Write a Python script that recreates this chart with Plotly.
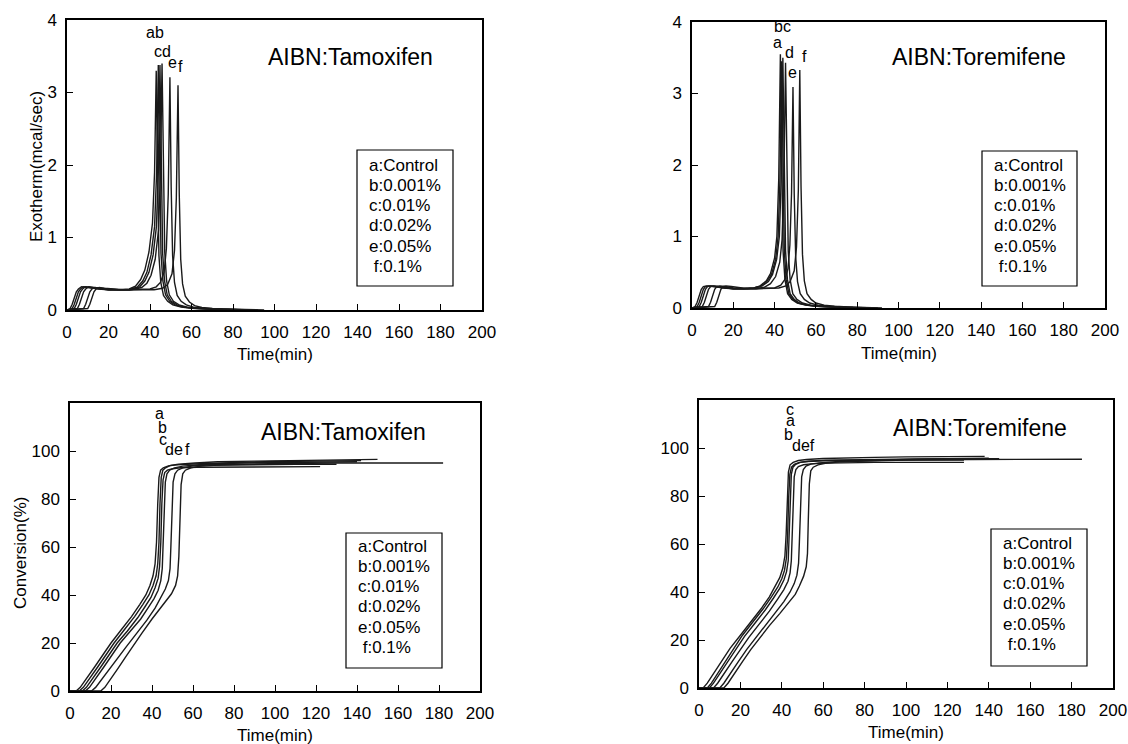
import plotly.graph_objects as go

W, H = 1128, 744
FONT = "Liberation Sans, Arial, sans-serif"

# ---------------- data: Exotherm, AIBN:Tamoxifen ----------------
exo_tam_a_t = [0, 1.5, 2.5, 3.5, 4.5, 5.5, 7, 10, 15, 20, 25, 30, 33, 35.5, 37.5, 39.5, 41.2, 42.2, 43.0, 43.6, 44.3, 45.2, 46.5, 48.5, 51, 55, 60, 70, 85]
exo_tam_a_y = [0, 0.02, 0.08, 0.17, 0.25, 0.29, 0.32, 0.31, 0.29, 0.28, 0.28, 0.29, 0.33, 0.42, 0.55, 0.8, 1.2, 1.9, 3.30, 1.7, 0.75, 0.38, 0.2, 0.12, 0.07, 0.04, 0.025, 0.01, 0]
exo_tam_b_t = [0, 2.5, 3.5, 4.5, 5.5, 6.5, 8, 11, 15, 20, 25, 30, 34, 36.5, 38.5, 40.5, 42.2, 43.2, 44.0, 44.6, 45.3, 46.2, 47.5, 49.5, 52, 56, 61, 72, 88]
exo_tam_b_y = [0, 0.02, 0.08, 0.17, 0.25, 0.29, 0.32, 0.31, 0.29, 0.28, 0.28, 0.28, 0.32, 0.40, 0.52, 0.76, 1.15, 1.9, 3.38, 1.75, 0.78, 0.4, 0.21, 0.12, 0.07, 0.04, 0.025, 0.01, 0]
exo_tam_c_t = [0, 3.5, 4.5, 5.5, 6.5, 7.5, 9, 12, 16, 20, 25, 30, 35, 37.5, 39.5, 41.5, 43.1, 44.0, 44.8, 45.4, 46.1, 47.0, 48.3, 50.3, 53, 57, 62, 72, 88]
exo_tam_c_y = [0, 0.02, 0.08, 0.17, 0.25, 0.29, 0.32, 0.31, 0.29, 0.28, 0.28, 0.28, 0.32, 0.40, 0.52, 0.76, 1.15, 1.9, 3.38, 1.75, 0.78, 0.4, 0.21, 0.12, 0.07, 0.04, 0.025, 0.01, 0]
exo_tam_d_t = [0, 5, 6, 7, 8, 9, 10.5, 13, 17, 21, 26, 31, 36, 38.5, 40.5, 42.5, 44.1, 45.0, 45.8, 46.4, 47.1, 48.0, 49.3, 51.3, 54, 58, 63, 73, 90]
exo_tam_d_y = [0, 0.02, 0.08, 0.17, 0.25, 0.29, 0.32, 0.31, 0.29, 0.28, 0.28, 0.28, 0.31, 0.37, 0.48, 0.7, 1.1, 1.85, 3.40, 1.8, 0.8, 0.4, 0.21, 0.12, 0.07, 0.04, 0.025, 0.01, 0]
exo_tam_e_t = [0, 8, 9, 10, 11, 12, 13.5, 16, 20, 25, 30, 35, 40, 43, 45, 46.8, 47.9, 48.8, 49.6, 50.2, 50.9, 51.8, 53.1, 55, 57.5, 61, 66, 75, 92]
exo_tam_e_y = [0, 0.02, 0.08, 0.17, 0.25, 0.29, 0.31, 0.30, 0.29, 0.28, 0.28, 0.28, 0.29, 0.32, 0.38, 0.52, 0.85, 1.6, 3.21, 1.7, 0.75, 0.38, 0.2, 0.12, 0.07, 0.04, 0.025, 0.01, 0]
exo_tam_f_t = [0, 10, 11, 12, 13, 14, 15.5, 18, 22, 27, 32, 37, 42, 46, 48.5, 50.6, 51.8, 52.7, 53.5, 54.1, 54.8, 55.7, 57, 59, 61.5, 65, 70, 80, 95]
exo_tam_f_y = [0, 0.02, 0.08, 0.17, 0.25, 0.29, 0.31, 0.30, 0.29, 0.28, 0.28, 0.28, 0.28, 0.3, 0.35, 0.5, 0.82, 1.55, 3.10, 1.6, 0.7, 0.36, 0.19, 0.11, 0.06, 0.035, 0.02, 0.01, 0]

# ---------------- data: Exotherm, AIBN:Toremifene ----------------
exo_tor_a_t = [0, 1.5, 2.5, 3.5, 4.5, 5.5, 7, 10, 15, 20, 25, 30, 33, 36, 38, 40, 41.1, 42.0, 42.8, 43.4, 44.1, 45.0, 46.3, 48.3, 51, 55, 60, 70, 85]
exo_tor_a_y = [0, 0.02, 0.08, 0.18, 0.26, 0.30, 0.31, 0.30, 0.28, 0.27, 0.27, 0.28, 0.31, 0.38, 0.48, 0.7, 1.0, 1.8, 3.55, 1.8, 0.8, 0.4, 0.2, 0.12, 0.07, 0.04, 0.025, 0.01, 0]
exo_tor_b_t = [0, 2.5, 3.5, 4.5, 5.5, 6.5, 8, 11, 15, 20, 25, 30, 33, 36, 38.5, 40.5, 41.7, 42.6, 43.4, 44.0, 44.7, 45.6, 46.9, 48.9, 51.5, 55.5, 61, 71, 86]
exo_tor_b_y = [0, 0.02, 0.08, 0.18, 0.26, 0.30, 0.31, 0.30, 0.28, 0.27, 0.27, 0.28, 0.30, 0.36, 0.47, 0.68, 1.0, 1.8, 3.45, 1.8, 0.8, 0.4, 0.2, 0.12, 0.07, 0.04, 0.025, 0.01, 0]
exo_tor_c_t = [0, 3.5, 4.5, 5.5, 6.5, 7.5, 9, 12, 16, 20, 25, 30, 34, 37, 39, 41, 42.3, 43.2, 44.0, 44.6, 45.3, 46.2, 47.5, 49.5, 52, 56, 61, 72, 88]
exo_tor_c_y = [0, 0.02, 0.08, 0.18, 0.26, 0.30, 0.31, 0.30, 0.28, 0.27, 0.27, 0.28, 0.31, 0.37, 0.47, 0.68, 1.0, 1.8, 3.50, 1.8, 0.8, 0.4, 0.2, 0.12, 0.07, 0.04, 0.025, 0.01, 0]
exo_tor_d_t = [0, 5, 6, 7, 8, 9, 10.5, 13, 17, 21, 26, 31, 35, 38, 40.5, 42.5, 43.6, 44.5, 45.3, 45.9, 46.6, 47.5, 48.8, 50.8, 53.5, 57.5, 63, 73, 88]
exo_tor_d_y = [0, 0.02, 0.08, 0.18, 0.26, 0.30, 0.31, 0.30, 0.28, 0.27, 0.27, 0.27, 0.29, 0.34, 0.44, 0.64, 0.95, 1.75, 3.43, 1.8, 0.8, 0.4, 0.2, 0.12, 0.07, 0.04, 0.025, 0.01, 0]
exo_tor_e_t = [0, 8, 9, 10, 11, 12, 13.5, 16, 20, 25, 30, 35, 40, 43, 45, 46.5, 47.4, 48.2, 48.9, 49.5, 50.2, 51.1, 52.4, 54.4, 57, 61, 66, 75, 90]
exo_tor_e_y = [0, 0.02, 0.08, 0.18, 0.26, 0.30, 0.31, 0.30, 0.28, 0.27, 0.27, 0.27, 0.28, 0.32, 0.4, 0.55, 0.88, 1.6, 3.09, 1.6, 0.72, 0.37, 0.2, 0.12, 0.07, 0.04, 0.025, 0.01, 0]
exo_tor_f_t = [0, 11, 12, 13, 14, 15, 16.5, 19, 23, 27, 32, 37, 42, 45.5, 47.5, 49.5, 50.6, 51.5, 52.2, 52.8, 53.5, 54.4, 55.7, 57.7, 60, 64, 69, 78, 92]
exo_tor_f_y = [0, 0.02, 0.08, 0.18, 0.26, 0.30, 0.31, 0.30, 0.28, 0.27, 0.27, 0.27, 0.28, 0.31, 0.37, 0.52, 0.85, 1.65, 3.33, 1.7, 0.75, 0.38, 0.2, 0.12, 0.07, 0.04, 0.025, 0.01, 0]

# ---------------- data: Conversion, AIBN:Tamoxifen ----------------
conv_tam_a_t = [0, 3, 5, 8, 12, 16, 20, 25, 30, 34, 37, 39, 40.5, 41.5, 42.2, 42.8, 43.4, 44.2, 45.5, 48, 52, 60, 70, 85, 100, 120, 142]
conv_tam_a_y = [0, 0, 1.5, 5, 10, 15, 20, 25.5, 31, 36, 40, 44, 48, 53, 62, 78, 89, 92, 93, 93.8, 94.2, 94.6, 95, 95.3, 95.6, 95.8, 96]
conv_tam_b_t = [0, 4.5, 6.5, 9.5, 13.5, 17.5, 21.5, 26.5, 31.5, 35.5, 38.5, 40.5, 42, 42.8, 43.4, 43.9, 44.5, 45.3, 46.6, 49, 53, 61, 72, 90, 110, 130, 150]
conv_tam_b_y = [0, 0, 1.5, 5, 10, 15, 20, 25.5, 31, 36, 40, 44, 48, 53, 62, 78, 89, 92, 93, 94, 94.5, 95, 95.5, 95.8, 96.1, 96.3, 96.5]
conv_tam_c_t = [0, 6, 8, 11, 15, 19, 23, 28, 33, 36.5, 39.5, 41.5, 43, 43.7, 44.3, 44.8, 45.4, 46.2, 47.5, 50, 54, 62, 72, 85, 100, 110, 122]
conv_tam_c_y = [0, 0, 1.5, 5, 10, 15, 20, 25, 30.5, 35, 39, 43, 47, 52, 62, 78, 88, 91, 92, 92.6, 93, 93.2, 93.3, 93.4, 93.5, 93.5, 93.5]
conv_tam_d_t = [0, 7.5, 9.5, 12.5, 16.5, 20.5, 24.5, 29.5, 34.5, 38, 41, 43, 44.3, 45, 45.4, 45.9, 46.5, 47.3, 48.6, 51, 55, 63, 75, 90, 105, 120, 140]
conv_tam_d_y = [0, 0, 1.5, 5, 10, 15, 20, 25, 30, 34.5, 38.5, 42, 46, 51, 60, 77, 87, 90.5, 92, 93, 93.7, 94.3, 94.8, 95.1, 95.3, 95.4, 95.5]
conv_tam_e_t = [0, 10.5, 12.5, 15.5, 19.5, 23.5, 27.5, 32.5, 37.5, 41.5, 44.5, 46.5, 48, 48.8, 49.2, 49.7, 50.3, 51.2, 52.5, 55, 60, 70, 85, 105, 130, 155, 182]
conv_tam_e_y = [0, 0, 1.5, 5, 9.5, 14, 18.5, 24, 29.5, 34.5, 39, 42.5, 46, 51, 60, 77, 87, 90.5, 92, 93, 93.8, 94.3, 94.6, 94.8, 95, 95, 95]
conv_tam_f_t = [0, 15, 17, 20, 23.5, 27, 30.5, 35, 40, 44, 47, 49.5, 51.5, 52.5, 53.1, 53.6, 54.2, 55, 56.3, 59, 63, 70, 80, 95, 110, 120, 130]
conv_tam_f_y = [0, 0, 1.5, 5, 9.5, 14, 18.5, 24, 30, 34.5, 37.5, 40.5, 44, 48, 56, 72, 86, 90.5, 92, 93, 93.6, 94, 94.2, 94.4, 94.5, 94.5, 94.5]

# ---------------- data: Conversion, AIBN:Toremifene ----------------
conv_tor_a_t = [0, 2, 4, 7, 11, 15, 20, 25, 30, 34, 37, 39, 40.5, 41.5, 42.1, 42.6, 43.2, 44, 45.5, 48, 52, 60, 70, 85, 100, 120, 138]
conv_tor_a_y = [0, 0, 2, 6, 11.5, 16.5, 22, 27.5, 33, 38, 42.5, 46, 50, 55, 64, 80, 90, 93, 94, 94.8, 95.2, 95.6, 95.9, 96.1, 96.3, 96.4, 96.5]
conv_tor_b_t = [0, 4, 6, 9, 13, 17, 21, 26, 31, 35, 38, 40, 41.3, 42.2, 42.8, 43.3, 43.9, 44.7, 46, 48.5, 52, 60, 70, 85, 100, 115, 128]
conv_tor_b_y = [0, 0, 2, 6, 11.5, 17, 22, 27.5, 33, 38, 42, 45.5, 49, 54, 63, 79, 89, 92, 93.2, 94, 94.4, 94.7, 94.9, 95, 95, 95, 95]
conv_tor_c_t = [0, 5, 7, 10, 14, 18, 22, 27, 32, 36, 39, 41, 42.3, 43.1, 43.5, 44.0, 44.6, 45.4, 46.7, 49, 53, 61, 72, 88, 105, 125, 145]
conv_tor_c_y = [0, 0, 2, 6, 11, 16.5, 21.5, 27, 32.5, 37.5, 41.5, 45, 48.5, 53, 62, 79, 89, 92, 93.2, 94, 94.5, 94.9, 95.1, 95.3, 95.4, 95.5, 95.5]
conv_tor_d_t = [0, 7, 9, 12, 16, 20, 24, 29, 34, 38, 41, 43, 44, 44.6, 45.0, 45.4, 46, 46.8, 48, 50.5, 54, 62, 72, 85, 100, 115, 128]
conv_tor_d_y = [0, 0, 2, 6, 11, 16, 21, 26.5, 32, 37, 41, 44.5, 48, 53, 62, 78, 88, 91, 92.3, 93, 93.4, 93.7, 93.9, 94, 94, 94, 94]
conv_tor_e_t = [0, 10, 12, 15, 19, 23, 27, 32, 37, 41, 44, 46, 47.3, 48.1, 48.5, 49, 49.6, 50.4, 51.7, 54, 58, 66, 80, 100, 130, 160, 185]
conv_tor_e_y = [0, 0, 2, 6, 11, 16, 20.5, 26, 31.5, 36, 40, 43.5, 47, 52, 61, 78, 88, 91, 92.5, 93.3, 93.8, 94.3, 94.7, 95, 95.2, 95.3, 95.3]
conv_tor_f_t = [0, 12, 14, 17, 21, 25, 29, 34, 39, 43, 46.5, 48.5, 50.5, 51.8, 52.4, 52.8, 53.3, 54, 55.2, 57.5, 61, 68, 80, 95, 110, 125, 140]
conv_tor_f_y = [0, 0, 2, 6, 11, 16, 20.5, 26, 31, 35.5, 39, 42.5, 46.5, 50.5, 56, 70, 85, 90.5, 92, 93, 93.6, 94.2, 94.7, 95.1, 95.4, 95.6, 95.8]

# ---------------- text ----------------
panel_titles = ["AIBN:Tamoxifen", "AIBN:Toremifene", "AIBN:Tamoxifen", "AIBN:Toremifene"]
legend_lines = ["a:Control", "b:0.001%", "c:0.01%", "d:0.02%", "e:0.05%", " f:0.1%"]
x_title = "Time(min)"
y_title_exo = "Exotherm(mcal/sec)"
y_title_conv = "Conversion(%)"
x_ticks = [0, 20, 40, 60, 80, 100, 120, 140, 160, 180, 200]
y_ticks_exo = [0, 1, 2, 3, 4]
y_ticks_conv = [0, 20, 40, 60, 80, 100]

# peak labels: (text, time, value)
labels_exo_tam = [("ab", 42.6, 3.83), ("cd", 45.8, 3.57), ("e", 50.6, 3.41), ("f", 54.6, 3.36)]
labels_exo_tor = [("bc", 43.6, 3.93), ("a", 41.4, 3.72), ("d", 47.3, 3.58), ("e", 48.9, 3.30), ("f", 54.7, 3.52)]
labels_conv_tam = [("a", 43.9, 115.5), ("b", 44.9, 110), ("c", 45.5, 105), ("de", 50.8, 100.5), ("f", 57.4, 100.5)]
labels_conv_tor = [("c", 44.2, 116), ("a", 44.2, 111.5), ("b", 43.2, 105.5), ("def", 50.5, 101)]

panels = [
    dict(curves=[(exo_tam_a_t, exo_tam_a_y), (exo_tam_b_t, exo_tam_b_y), (exo_tam_c_t, exo_tam_c_y),
                 (exo_tam_d_t, exo_tam_d_y), (exo_tam_e_t, exo_tam_e_y), (exo_tam_f_t, exo_tam_f_y)],
         labels=labels_exo_tam, box=(67, 482, 20, 310), yrange=[0, 4], yticks=y_ticks_exo,
         title_xy=(350, 57), legend_box=(357, 453, 150, 286), legend_y0=165, ytitle=y_title_exo,
         ytitle_xy=(36, 167), xtitle_y=354),
    dict(curves=[(exo_tor_a_t, exo_tor_a_y), (exo_tor_b_t, exo_tor_b_y), (exo_tor_c_t, exo_tor_c_y),
                 (exo_tor_d_t, exo_tor_d_y), (exo_tor_e_t, exo_tor_e_y), (exo_tor_f_t, exo_tor_f_y)],
         labels=labels_exo_tor, box=(692, 1105, 22, 308), yrange=[0, 4], yticks=y_ticks_exo,
         title_xy=(979, 57), legend_box=(982, 1077, 151, 286), legend_y0=165, ytitle=None,
         ytitle_xy=None, xtitle_y=353),
    dict(curves=[(conv_tam_a_t, conv_tam_a_y), (conv_tam_b_t, conv_tam_b_y), (conv_tam_c_t, conv_tam_c_y),
                 (conv_tam_d_t, conv_tam_d_y), (conv_tam_e_t, conv_tam_e_y), (conv_tam_f_t, conv_tam_f_y)],
         labels=labels_conv_tam, box=(70, 480, 403, 691), yrange=[0, 120], yticks=y_ticks_conv,
         title_xy=(343, 432), legend_box=(346, 442, 533, 668), legend_y0=546, ytitle=y_title_conv,
         ytitle_xy=(20, 553), xtitle_y=735),
    dict(curves=[(conv_tor_a_t, conv_tor_a_y), (conv_tor_b_t, conv_tor_b_y), (conv_tor_c_t, conv_tor_c_y),
                 (conv_tor_d_t, conv_tor_d_y), (conv_tor_e_t, conv_tor_e_y), (conv_tor_f_t, conv_tor_f_y)],
         labels=labels_conv_tor, box=(699, 1113, 400, 688), yrange=[0, 120], yticks=y_ticks_conv,
         title_xy=(980, 428), legend_box=(991, 1087, 529, 666), legend_y0=543, ytitle=None,
         ytitle_xy=None, xtitle_y=732),
]


def px(x):
    return x / W


def py(y):
    return 1 - y / H


fig = go.Figure()
annotations = []
shapes = []
layout = {}

for i, p in enumerate(panels):
    n = i + 1
    xa = "x" if n == 1 else f"x{n}"
    ya = "y" if n == 1 else f"y{n}"
    for t, v in p["curves"]:
        fig.add_trace(go.Scatter(x=t, y=v, mode="lines", xaxis=xa, yaxis=ya,
                                 line=dict(color="#1a1a1a", width=1.4), showlegend=False,
                                 hoverinfo="skip"))
    x0, x1, y0, y1 = p["box"]
    axis_common = dict(showgrid=False, zeroline=False, showline=True, linecolor="black",
                       linewidth=1.5, mirror=True, ticks="inside", ticklen=6, tickwidth=1.2,
                       tickcolor="black", automargin=False,
                       tickfont=dict(family=FONT, size=17, color="black"))
    layout[f"xaxis{'' if n == 1 else n}"] = dict(
        domain=[px(x0), px(x1)], range=[0, 200], tickvals=x_ticks, anchor=ya,
        ticklabelstandoff=6, **axis_common)
    layout[f"yaxis{'' if n == 1 else n}"] = dict(
        domain=[py(y1), py(y0)], range=p["yrange"], tickvals=p["yticks"], anchor=xa,
        ticklabelstandoff=5, **axis_common)

    for txt, tx, ty in p["labels"]:
        annotations.append(dict(text=txt, x=tx, y=ty, xref=xa, yref=ya, showarrow=False,
                                xanchor="center", yanchor="middle",
                                font=dict(family=FONT, size=16, color="black")))

    annotations.append(dict(text=panel_titles[i], x=px(p["title_xy"][0]), y=py(p["title_xy"][1]),
                            xref="paper", yref="paper", showarrow=False,
                            xanchor="center", yanchor="middle",
                            font=dict(family=FONT, size=23, color="black")))
    lx0, lx1, ly0, ly1 = p["legend_box"]
    shapes.append(dict(type="rect", xref="paper", yref="paper", x0=px(lx0), x1=px(lx1),
                       y0=py(ly1), y1=py(ly0), line=dict(color="black", width=1.2)))
    for k, line in enumerate(legend_lines):
        annotations.append(dict(text=line.replace(" ", "&nbsp;"), x=px(lx0 + 10), y=py(p["legend_y0"] + 20.3 * k),
                                xref="paper", yref="paper", xanchor="left", yanchor="middle",
                                showarrow=False, font=dict(family=FONT, size=17, color="black")))
    annotations.append(dict(text=x_title, x=px((x0 + x1) / 2), y=py(p["xtitle_y"]), xref="paper",
                            yref="paper", showarrow=False, xanchor="center", yanchor="middle",
                            font=dict(family=FONT, size=17, color="black")))
    if p["ytitle"]:
        annotations.append(dict(text=p["ytitle"], x=px(p["ytitle_xy"][0]), y=py(p["ytitle_xy"][1]),
                                xref="paper", yref="paper", showarrow=False, textangle=-90,
                                xanchor="center", yanchor="middle",
                                font=dict(family=FONT, size=17, color="black")))

fig.update_layout(width=W, height=H, margin=dict(l=0, r=0, t=0, b=0), paper_bgcolor="white",
                  plot_bgcolor="white", annotations=annotations, shapes=shapes, **layout)
fig.write_html("out.html")
